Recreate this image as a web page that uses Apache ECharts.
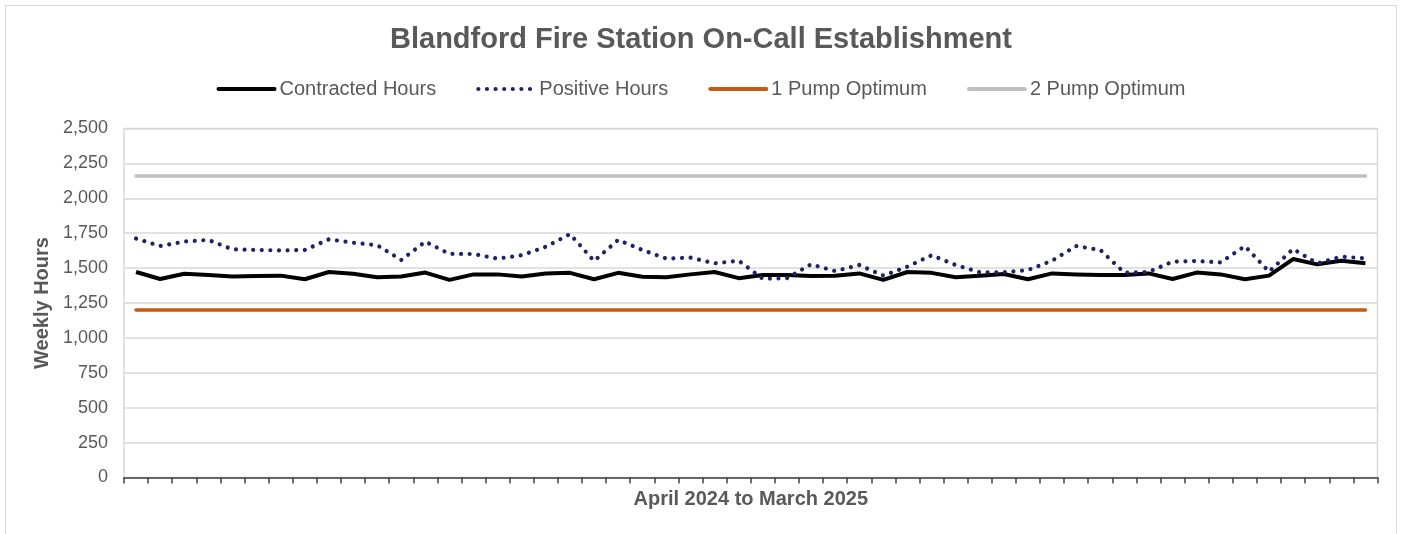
<!DOCTYPE html>
<html>
<head>
<meta charset="utf-8">
<title>Blandford Fire Station On-Call Establishment</title>
<script src="https://cdn.jsdelivr.net/npm/echarts@6/dist/echarts.min.js"></script>
<style>
  html, body { margin: 0; padding: 0; background: #fff; }
  #chart { width: 1402px; height: 534px; }
</style>
</head>
<body>
<div id="chart"></div>
<script>
// 52 weeks, April 2024 to March 2025 (no tick labels shown on the chart)
const weeks = Array.from({ length: 52 }, (_, i) => 'Wk ' + (i + 1));

const contractedHours = [
  1472, 1422, 1460, 1450, 1440, 1444, 1446, 1420, 1472, 1460,
  1434, 1440, 1468, 1416, 1455, 1455, 1440, 1462, 1466, 1420,
  1466, 1438, 1434, 1455, 1472, 1428, 1451, 1451, 1443, 1446,
  1462, 1416, 1472, 1466, 1434, 1446, 1458, 1420, 1462, 1455,
  1451, 1451, 1462, 1422, 1468, 1455, 1420, 1446, 1565, 1527,
  1553, 1534
];

const positiveHours = [
  1712, 1658, 1690, 1702, 1634, 1630, 1626, 1630, 1706, 1682,
  1664, 1558, 1690, 1602, 1601, 1568, 1592, 1653, 1744, 1551,
  1702, 1630, 1568, 1575, 1534, 1553, 1424, 1428, 1527, 1479,
  1522, 1446, 1510, 1592, 1522, 1470, 1470, 1486, 1553, 1658,
  1630, 1467, 1472, 1546, 1551, 1541, 1658, 1474, 1637, 1534,
  1582, 1570
];

const onePumpOptimum = 1200;
const twoPumpOptimum = 2160;

const textGrey = '#595959';
const dotStyle = { color: '#1f2366', width: 4.2, type: [0.01, 8.6], cap: 'round' };

const chart = echarts.init(document.getElementById('chart'));

const option = {
  animation: false,
  backgroundColor: '#fff',
  textStyle: { fontFamily: 'Liberation Sans, Arial, sans-serif' },
  graphic: [
    {
      type: 'rect',
      shape: { x: 5.5, y: 5.5, width: 1391, height: 560 },
      style: { fill: 'none', stroke: '#d9d9d9', lineWidth: 1 },
      silent: true
    }
  ],
  title: {
    text: 'Blandford Fire Station On-Call Establishment',
    left: 'center',
    top: 20,
    textStyle: { fontSize: 29, fontWeight: 'bold', color: textGrey }
  },
  legend: {
    top: 74,
    left: 'center',
    itemWidth: 56,
    itemHeight: 20,
    itemGap: 40,
    textStyle: { fontSize: 20, color: textGrey },
    itemStyle: { opacity: 0 },
    data: [
      { name: 'Contracted Hours', lineStyle: { color: '#000', width: 4, cap: 'round' } },
      { name: 'Positive Hours', lineStyle: dotStyle },
      { name: '1 Pump Optimum', lineStyle: { color: '#c55a11', width: 4, cap: 'round' } },
      { name: '2 Pump Optimum', lineStyle: { color: '#bfbfbf', width: 4, cap: 'round' } }
    ]
  },
  grid: {
    left: 124,
    right: 24.5,
    top: 128.5,
    bottom: 56.5,
    show: true,
    borderColor: '#d9d9d9',
    borderWidth: 1.5
  },
  xAxis: {
    type: 'category',
    data: weeks,
    boundaryGap: true,
    name: 'April 2024 to March 2025',
    nameLocation: 'middle',
    nameGap: 12,
    nameTextStyle: { fontSize: 20, fontWeight: 'bold', color: textGrey },
    axisLine: { show: true, lineStyle: { color: '#404040', width: 1.5 } },
    axisTick: { show: true, interval: 0, length: 6, lineStyle: { color: '#404040', width: 1.5 } },
    axisLabel: { show: false },
    splitLine: { show: false }
  },
  yAxis: {
    type: 'value',
    min: 0,
    max: 2500,
    interval: 250,
    name: 'Weekly Hours',
    nameLocation: 'middle',
    nameGap: 64,
    nameTextStyle: { fontSize: 20, fontWeight: 'bold', color: textGrey },
    axisLine: { show: false },
    axisTick: { show: false },
    axisLabel: {
      fontSize: 18,
      color: textGrey,
      margin: 16,
      formatter: (v) => v.toLocaleString('en-GB')
    },
    splitLine: { lineStyle: { color: '#d9d9d9', width: 1.5 } }
  },
  series: [
    {
      name: 'Contracted Hours',
      type: 'line',
      data: contractedHours,
      symbol: 'none',
      z: 4,
      lineStyle: { color: '#000', width: 4, join: 'round' },
      itemStyle: { color: '#000' }
    },
    {
      name: 'Positive Hours',
      type: 'line',
      data: positiveHours,
      symbol: 'none',
      z: 5,
      lineStyle: dotStyle,
      itemStyle: { color: '#1f2366' }
    },
    {
      name: '1 Pump Optimum',
      type: 'line',
      data: weeks.map(() => onePumpOptimum),
      symbol: 'none',
      lineStyle: { color: '#c55a11', width: 3.5, cap: 'round' },
      itemStyle: { color: '#c55a11' }
    },
    {
      name: '2 Pump Optimum',
      type: 'line',
      data: weeks.map(() => twoPumpOptimum),
      symbol: 'none',
      lineStyle: { color: '#bfbfbf', width: 3.5, cap: 'round' },
      itemStyle: { color: '#bfbfbf' }
    }
  ]
};

chart.setOption(option);
</script>
</body>
</html>
